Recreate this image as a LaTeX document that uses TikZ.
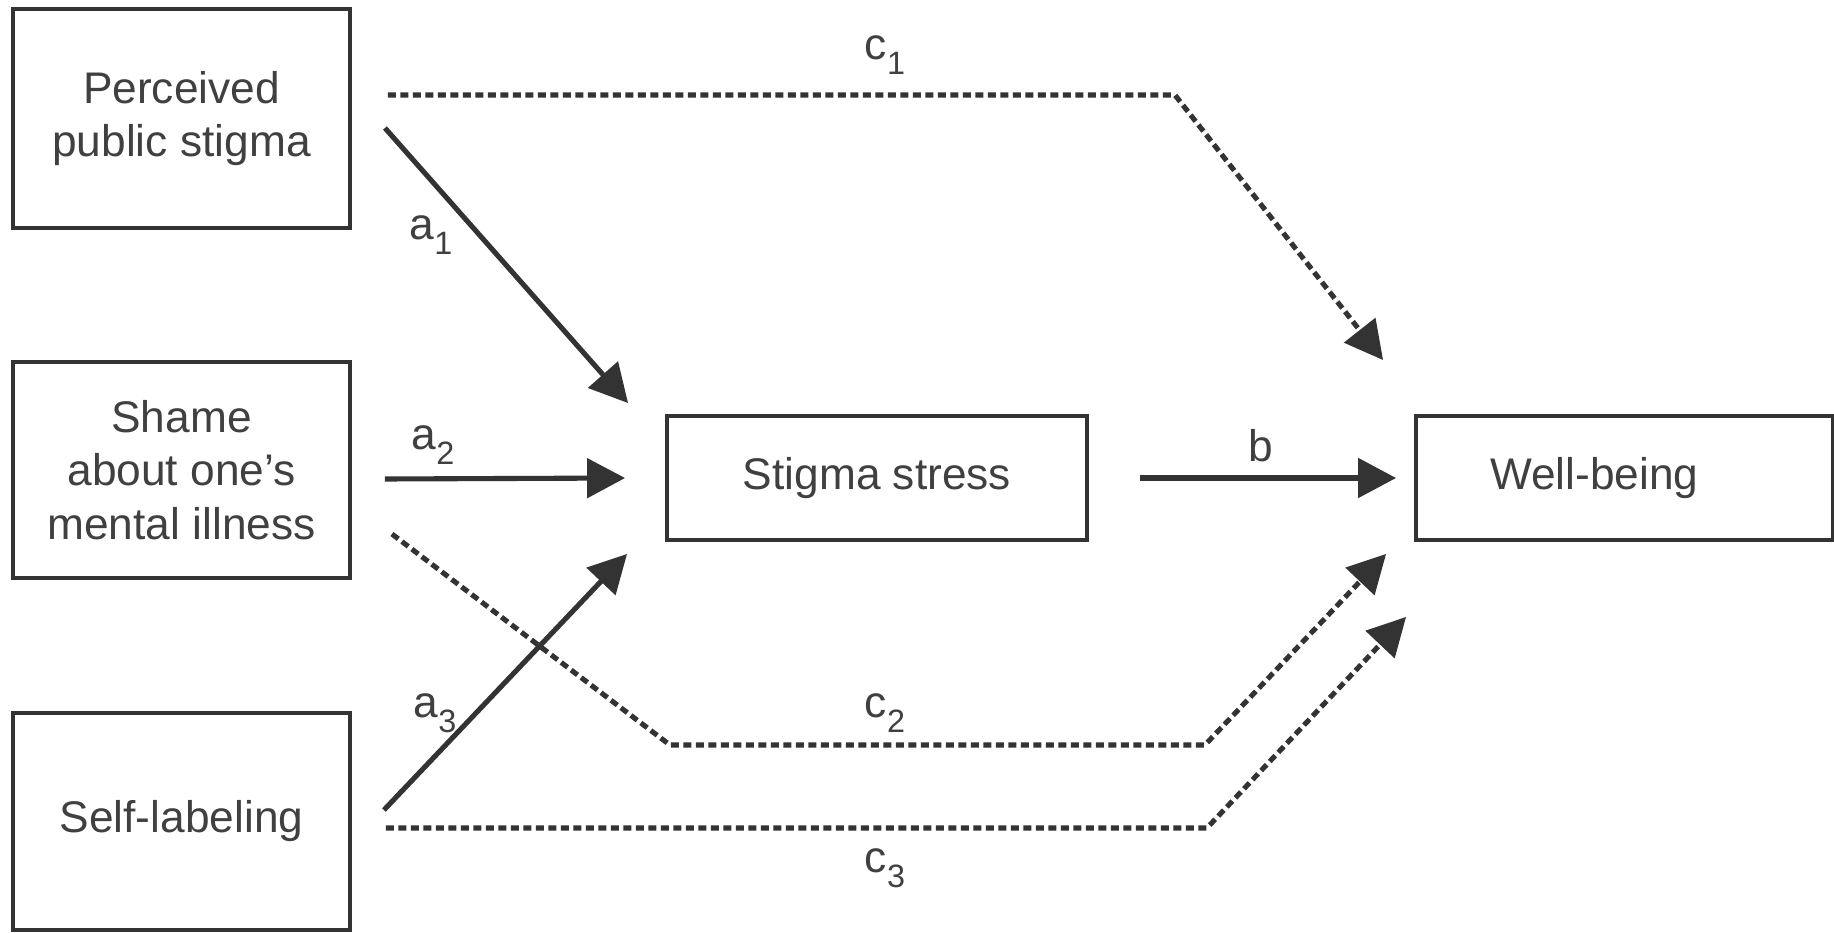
\documentclass[tikz,border=0pt]{standalone}
\usepackage{fontspec}
\setmainfont{Liberation Sans}
\usepackage{xcolor}
\usetikzlibrary{shapes,arrows.meta}
\definecolor{ink}{HTML}{333333}
\definecolor{txt}{HTML}{404040}
\newcommand{\lblsub}[1]{\raisebox{-4.3pt}{\fontsize{9.2}{9.2}\selectfont #1}}

\begin{document}
\begin{tikzpicture}
    \tikzstyle{box}=[rectangle,draw=ink,line width=1.1pt,text=txt,align=center,inner sep=0pt,font=\fontsize{12.6}{15.2}\selectfont]
    \tikzstyle{lbl}=[text=txt,inner sep=0pt,font=\fontsize{12.6}{15.2}\selectfont]
    \tikzstyle{direct}=[draw=ink,line width=1.45pt,line join=round,-{Triangle[length=0.38cm,width=0.39cm]}]
    \tikzstyle{indirect}=[direct,dash pattern=on 0.08cm off 0.045cm]
    \useasboundingbox (0,0) rectangle (18.34,9.32);
    % predictors
    \node[box,minimum width=3.37cm,minimum height=2.19cm] (pps) at (1.815,8.135) {Perceived\\public stigma};
    \node[box,minimum width=3.37cm,minimum height=2.16cm] (shame) at (1.815,4.62) {Shame\\about one's\\mental illness};
    \node[box,minimum width=3.37cm,minimum height=2.17cm] (self) at (1.815,1.105) {Self-labeling};
    % mediator and outcome
    \node[box,minimum width=4.20cm,minimum height=1.24cm] (stress) at (8.77,4.54) {Stigma stress};
    \node[box,minimum width=4.17cm,minimum height=1.24cm,text width=2.69cm,align=left,inner xsep=0.74cm] (well) at (16.245,4.54) {Well-being};
    % a paths
    \draw[direct] ([shift={(0.33,-0.095)}]pps.east) -- ([shift={(-0.37,0.11)}]stress.north west);
    \draw[direct] ([shift={(0.33,-0.09)}]shame.east) -- ([shift={(-0.40,0)}]stress.west);
    \draw[direct] ([shift={(0.32,0.115)}]self.east) -- ([shift={(-0.38,-0.12)}]stress.south west);
    % b path
    \draw[direct] ([shift={(0.51,0)}]stress.east) -- ([shift={(-0.18,0)}]well.west);
    % c paths
    \draw[indirect] ([shift={(0.36,0.235)}]pps.east) -- ++(7.87,0) -- ([shift={(-0.31,0.54)}]well.north west);
    \draw[indirect] ([shift={(0.40,-0.64)}]shame.east) -- ++(2.78,-2.11) -- ++(5.35,0) -- ([shift={(-0.28,-0.12)}]well.south west);
    \draw[indirect] ([shift={(0.34,-0.065)}]self.east) -- ++(8.21,0) -- ([shift={(-0.08,-0.75)}]well.south west);
    % labels
    \node[lbl] (la1) at (4.31,6.97) {a\lblsub{1}};
    \node[lbl] (la2) at (4.33,4.87) {a\lblsub{2}};
    \node[lbl] (la3) at (4.35,2.19) {a\lblsub{3}};
    \node[lbl] (lb) at (12.61,4.86) {b};
    \node[lbl] (lc1) at (8.85,8.77) {c\lblsub{1}};
    \node[lbl] (lc2) at (8.85,2.19) {c\lblsub{2}};
    \node[lbl] (lc3) at (8.85,0.64) {c\lblsub{3}};
\end{tikzpicture}
\end{document}
